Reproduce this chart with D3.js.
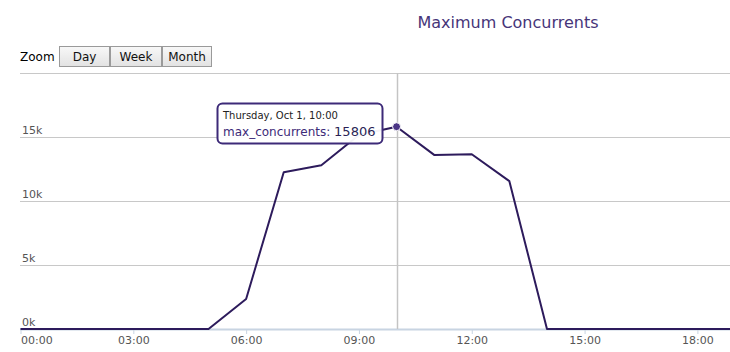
<!DOCTYPE html>
<html>
<head>
<meta charset="utf-8">
<script src="https://cdn.jsdelivr.net/npm/d3@7"></script>
<style>
  body { margin: 0; background: #fff; }
  text { font-family: "DejaVu Sans", Verdana, sans-serif; }
</style>
</head>
<body>
<script>
var width = 730,
    height = 352;

// hourly data, Oct 1
var hours = [0, 1, 2, 3, 4, 5, 6, 7, 8, 9, 10, 11, 12, 13, 14, 15, 16, 17, 18, 19];
var maxConcurrents = [0, 0, 0, 0, 0, 0, 2350, 12250, 12800, 15150, 15806, 13600, 13650, 11550, 0, 0, 0, 0, 0, 0];
var yTicks = [0, 5000, 10000, 15000, 20000];
var xTicks = [0, 3, 6, 9, 12, 15, 18];
var zoomButtons = ['Day', 'Week', 'Month'];
var hoverIndex = 10;

var data = hours.map(function(h, i) { return {hour: h, value: maxConcurrents[i]}; });

var x = d3.scaleLinear().domain([0, 19]).range([20.5, 735]);
var y = d3.scaleLinear().domain([0, 20000]).range([329, 73]);

var svg = d3.select('body').append('svg')
    .attr('width', width)
    .attr('height', height);

// title
svg.append('text')
    .attr('x', 508)
    .attr('y', 28)
    .attr('text-anchor', 'middle')
    .style('font-size', '16px')
    .style('fill', '#463579')
    .text('Maximum Concurrents');

// zoom buttons
svg.append('text')
    .attr('x', 20)
    .attr('y', 61)
    .style('font-size', '12px')
    .style('fill', '#000')
    .text('Zoom');

var defs = svg.append('defs');
var grad = defs.append('linearGradient')
    .attr('id', 'btn')
    .attr('x1', 0).attr('y1', 0).attr('x2', 0).attr('y2', 1);
grad.append('stop').attr('offset', '0%').attr('stop-color', '#f8f8f8');
grad.append('stop').attr('offset', '100%').attr('stop-color', '#e2e2e2');

var btnX = [59, 110, 162],
    btnW = [50, 51, 49];
var btn = svg.selectAll('.btn')
    .data(zoomButtons)
    .enter().append('g')
    .attr('class', 'btn')
    .attr('transform', function(d, i) { return 'translate(' + btnX[i] + ',46)'; });
btn.append('rect')
    .attr('x', 0.5).attr('y', 0.5)
    .attr('width', function(d, i) { return btnW[i]; })
    .attr('height', 20)
    .attr('fill', 'url(#btn)')
    .attr('stroke', '#9a9a9a');
btn.append('text')
    .attr('x', function(d, i) { return btnW[i] / 2 + 0.5; })
    .attr('y', 15)
    .attr('text-anchor', 'middle')
    .style('font-size', '12px')
    .style('fill', '#111')
    .text(function(d) { return d; });

// grid lines
svg.append('g')
    .selectAll('line')
    .data(yTicks)
    .enter().append('line')
    .attr('x1', 20).attr('x2', width)
    .attr('y1', function(d) { return Math.round(y(d)) + 0.5; })
    .attr('y2', function(d) { return Math.round(y(d)) + 0.5; })
    .attr('stroke', function(d) { return d === 0 ? '#c8d4e2' : '#c8c8c8'; })
    .attr('stroke-width', function(d) { return d === 0 ? 2 : 1.2; });

// y labels
svg.append('g')
    .selectAll('text')
    .data(yTicks.filter(function(d) { return d < 20000; }))
    .enter().append('text')
    .attr('x', 22)
    .attr('y', function(d) { return y(d) - 3; })
    .style('font-size', '11px')
    .style('fill', '#555')
    .text(function(d) { return (d / 1000) + 'k'; });

// x axis
var xAxis = d3.axisBottom(x)
    .tickValues(xTicks)
    .tickSize(4)
    .tickFormat(function(d) { return (d < 10 ? '0' : '') + d + ':00'; });

var gx = svg.append('g')
    .attr('transform', 'translate(0,330)')
    .call(xAxis);
gx.select('.domain').remove();
gx.selectAll('.tick line').attr('stroke', '#c8d4e2');
gx.selectAll('.tick text')
    .attr('dy', '0.71em')
    .attr('y', 6)
    .attr('text-anchor', function(d) { return d === 0 ? 'start' : 'middle'; })
    .style('font-size', '11px')
    .style('font-family', '"DejaVu Sans", Verdana, sans-serif')
    .style('fill', '#555');

// crosshair
var hx = Math.round(x(hours[hoverIndex])) + 0.5;
svg.append('line')
    .attr('x1', hx).attr('x2', hx)
    .attr('y1', 73).attr('y2', 329)
    .attr('stroke', '#c4c4c4')
    .attr('stroke-width', 1.5);

// series line
var line = d3.line()
    .x(function(d) { return x(d.hour); })
    .y(function(d) { return y(d.value); });

svg.append('path')
    .datum(data)
    .attr('d', line)
    .attr('fill', 'none')
    .attr('stroke', '#2d1b5c')
    .attr('stroke-width', 2)
    .attr('stroke-linejoin', 'round');

// hover marker
var hd = data[hoverIndex];
svg.append('circle')
    .attr('cx', x(hd.hour))
    .attr('cy', y(hd.value))
    .attr('r', 4)
    .attr('fill', '#4a3585')
    .attr('stroke', '#fff')
    .attr('stroke-width', 1);

// tooltip
var tip = svg.append('g').attr('transform', 'translate(217,103)');
tip.append('rect')
    .attr('x', 0.5).attr('y', 0.5)
    .attr('width', 165).attr('height', 40)
    .attr('rx', 5)
    .attr('fill', '#fff')
    .attr('fill-opacity', 0.95)
    .attr('stroke', '#3d2a78')
    .attr('stroke-width', 2);
tip.append('text')
    .attr('x', 6).attr('y', 16)
    .style('font-size', '10px')
    .style('fill', '#222')
    .text('Thursday, Oct 1, ' + (hd.hour < 10 ? '0' : '') + hd.hour + ':00');
var t2 = tip.append('text')
    .attr('x', 6).attr('y', 33)
    .style('font-size', '12px');
t2.append('tspan')
    .style('fill', '#3d2a78')
    .text('max_concurrents: ');
t2.append('tspan')
    .style('fill', '#2a1f55')
    .style('font-size', '13px')
    .text(hd.value);
</script>
</body>
</html>
